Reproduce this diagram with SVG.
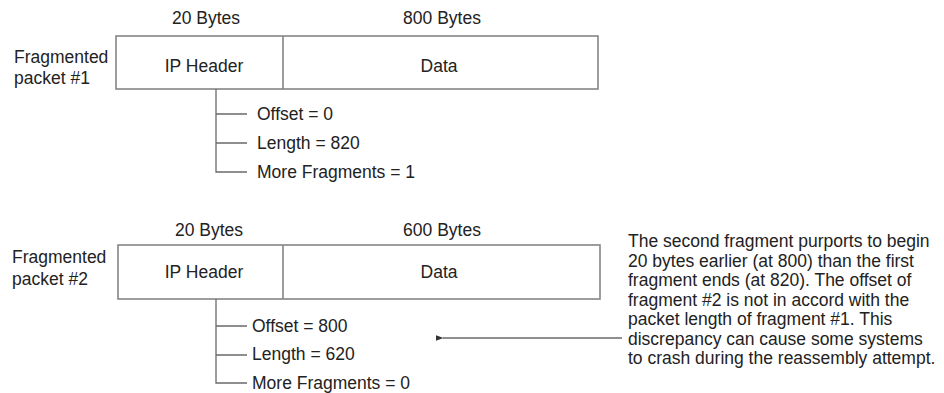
<svg xmlns="http://www.w3.org/2000/svg" width="944" height="393" viewBox="0 0 944 393">
<style>
text{font-family:"Liberation Sans",Arial,sans-serif;font-size:17.5px;fill:#222}
.mid{text-anchor:middle}
.box{fill:#fff;stroke:#858585;stroke-width:1.6}
.ln{fill:none;stroke:#6a6a6a;stroke-width:1.3}
</style>
<defs>
<marker id="ah" viewBox="0 0 8 6" refX="0.5" refY="3" markerWidth="8" markerHeight="6" markerUnits="userSpaceOnUse" orient="auto-start-reverse">
<path d="M0,3 L8,0 L8,6 Z" fill="#333"/>
</marker>
</defs>
<rect width="944" height="393" fill="#fff"/>

<g id="packet1">
<text x="14" y="63">Fragmented</text>
<text x="14" y="84">packet #1</text>
<text class="mid" x="206" y="24">20 Bytes</text>
<text class="mid" x="442" y="24">800 Bytes</text>
<rect class="box" x="116" y="36" width="482" height="53"/>
<line class="box" x1="283" y1="36" x2="283" y2="89"/>
<text class="mid" x="204" y="72">IP Header</text>
<text class="mid" x="439" y="72">Data</text>
</g>

<g id="fields1">
<text x="257" y="120">Offset = 0</text>
<text x="257" y="149">Length = 820</text>
<text x="257" y="178">More Fragments = 1</text>
</g>

<g id="packet2">
<text x="12" y="263">Fragmented</text>
<text x="12" y="285">packet #2</text>
<text class="mid" x="209" y="236">20 Bytes</text>
<text class="mid" x="442" y="236">600 Bytes</text>
<rect class="box" x="118" y="245" width="482" height="54"/>
<line class="box" x1="283" y1="245" x2="283" y2="299"/>
<text class="mid" x="204" y="278">IP Header</text>
<text class="mid" x="439" y="278">Data</text>
</g>

<g id="fields2">
<text x="252" y="332">Offset = 800</text>
<text x="252" y="360">Length = 620</text>
<text x="252" y="389">More Fragments = 0</text>
</g>

<g id="note">
<text x="628" y="247">The second fragment purports to begin</text>
<text x="628" y="267">20 bytes earlier (at 800) than the first</text>
<text x="628" y="286">fragment ends (at 820). The offset of</text>
<text x="628" y="306">fragment #2 is not in accord with the</text>
<text x="628" y="325">packet length of fragment #1. This</text>
<text x="628" y="345">discrepancy can cause some systems</text>
<text x="628" y="364">to crash during the reassembly attempt.</text>
</g>

<g id="connectors">
<path class="ln" d="M216,89 V172 H247 M216,114 H247 M216,143 H247"/>
<path class="ln" d="M216,299 V383 H247 M216,326 H247 M216,355 H247"/>
<line class="ln" x1="622" y1="338" x2="443" y2="338" marker-end="url(#ah)"/>
</g>
</svg>
